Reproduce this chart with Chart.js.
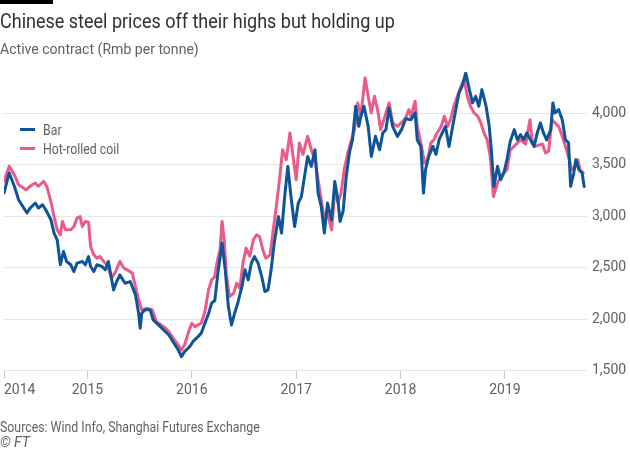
<!DOCTYPE html>
<html>
<head>
<meta charset="utf-8">
<script src="https://cdn.jsdelivr.net/npm/chart.js@4.4.1/dist/chart.umd.min.js"></script>
<style>
  html, body { margin: 0; padding: 0; background: #ffffff; }
  #wrap { position: relative; width: 630px; height: 450px; overflow: hidden;
          font-family: "Roboto", "Liberation Sans", sans-serif; }
  #topbar { position: absolute; left: 0; top: 0; width: 53px; height: 4px; background: #000; }
  #title { position: absolute; left: 0; top: 9px; font-size: 20px; line-height: 24px; color: #33302e; white-space: nowrap;
           transform: scaleX(0.9); transform-origin: 0 0; }
  #subtitle { position: absolute; left: 0; top: 41px; font-size: 14.5px; line-height: 17px; color: #66605c; white-space: nowrap;
              transform: scaleX(0.97); transform-origin: 0 0; }
  #legend { position: absolute; left: 20px; top: 121px; font-size: 14px; line-height: 19px; color: #66605c; }
  .item { position: relative; height: 19px; white-space: nowrap; }
  .sw { position: absolute; left: 0; top: 7px; width: 15px; height: 3px; }
  .lab { position: absolute; left: 23px; top: 0; transform: scaleX(0.88); transform-origin: 0 0; }
  #source { position: absolute; left: 0; top: 419px; font-size: 14px; line-height: 16px; color: #66605c; white-space: nowrap;
            transform: scaleX(0.88); transform-origin: 0 0; }
  #ft { position: absolute; left: 0; top: 434px; font-size: 14px; line-height: 16px; color: #66605c; font-style: italic; }
  #chartbox { position: absolute; left: 0; top: 0; width: 630px; height: 450px; }
</style>
</head>
<body>
<div id="wrap">
  <div id="chartbox"><canvas id="c" width="630" height="450"></canvas></div>
  <div id="topbar"></div>
  <div id="title">Chinese steel prices off their highs but holding up</div>
  <div id="subtitle">Active contract (Rmb per tonne)</div>
  <div id="legend"></div>
  <div id="source">Sources: Wind Info, Shanghai Futures Exchange</div>
  <div id="ft">© FT</div>
</div>
<script>
// ---- Data (dates as decimal years) ----
const seriesNames = ["Bar", "Hot-rolled coil"];
const seriesColors = ["#0f5499", "#ea5a8a"];

const barDates = [2014.20,2014.25,2014.30,2014.34,2014.37,2014.42,2014.45,2014.50,2014.53,2014.57,2014.60,2014.65,2014.68,2014.71,2014.73,2014.74,2014.77,2014.80,2014.84,2014.87,2014.90,2014.95,2014.98,2015.01,2015.03,2015.06,2015.09,2015.14,2015.17,2015.20,2015.25,2015.28,2015.31,2015.36,2015.41,2015.46,2015.49,2015.505,2015.52,2015.55,2015.60,2015.63,2015.68,2015.73,2015.78,2015.82,2015.87,2015.90,2015.93,2015.98,2016.01,2016.06,2016.09,2016.125,2016.16,2016.19,2016.22,2016.25,2016.29,2016.32,2016.35,2016.38,2016.41,2016.44,2016.48,2016.51,2016.54,2016.57,2016.60,2016.635,2016.67,2016.70,2016.73,2016.76,2016.79,2016.83,2016.86,2016.89,2016.92,2016.95,2016.985,2017.02,2017.05,2017.08,2017.11,2017.145,2017.18,2017.21,2017.24,2017.27,2017.30,2017.34,2017.37,2017.40,2017.42,2017.45,2017.48,2017.51,2017.54,2017.57,2017.60,2017.62,2017.65,2017.69,2017.72,2017.76,2017.80,2017.83,2017.86,2017.89,2017.925,2017.97,2018.01,2018.05,2018.10,2018.14,2018.16,2018.195,2018.22,2018.24,2018.27,2018.31,2018.34,2018.37,2018.40,2018.43,2018.465,2018.50,2018.53,2018.56,2018.59,2018.625,2018.66,2018.69,2018.72,2018.75,2018.78,2018.82,2018.85,2018.87,2018.895,2018.93,2018.96,2018.99,2019.02,2019.05,2019.09,2019.12,2019.15,2019.18,2019.21,2019.245,2019.28,2019.31,2019.34,2019.37,2019.40,2019.44,2019.46,2019.48,2019.515,2019.55,2019.58,2019.61,2019.63,2019.66,2019.68,2019.71,2019.74,2019.76];
const barValues = [3224,3419,3288,3159,3110,3030,3078,3127,3078,3110,3062,2964,2835,2770,2607,2527,2656,2559,2527,2461,2543,2559,2527,2607,2510,2461,2527,2510,2478,2559,2283,2364,2429,2348,2364,2235,2056,1911,2056,2089,2089,1991,1943,1894,1845,1780,1700,1634,1683,1732,1780,1829,1862,1960,2050,2154,2180,2446,2738,2478,2121,1943,2056,2154,2315,2478,2380,2543,2607,2543,2413,2267,2283,2478,2738,2996,2835,3191,3483,3191,2899,3127,3190,3386,3580,3483,3645,3224,3094,2835,3127,2964,3337,3159,2948,3050,3386,3613,3742,4067,3872,3970,4067,3872,3580,3775,3645,3808,3840,4051,3872,3775,3840,3945,3937,4003,3742,3677,3224,3451,3580,3677,3600,3742,3808,3872,3677,3872,4035,4197,4261,4391,4229,4100,4164,4067,4229,4067,3872,3645,3288,3483,3354,3419,3548,3720,3840,3742,3791,3742,3808,3742,3677,3808,3905,3808,3740,3840,4100,4003,4035,3937,3742,3711,3288,3419,3548,3451,3419,3288];

const hrcDates = [2014.20,2014.25,2014.30,2014.34,2014.41,2014.47,2014.50,2014.53,2014.58,2014.61,2014.645,2014.68,2014.71,2014.74,2014.76,2014.79,2014.84,2014.87,2014.90,2014.93,2014.95,2014.98,2015.01,2015.03,2015.06,2015.09,2015.12,2015.155,2015.19,2015.23,2015.27,2015.31,2015.35,2015.38,2015.43,2015.46,2015.49,2015.52,2015.57,2015.62,2015.66,2015.73,2015.78,2015.82,2015.87,2015.90,2015.93,2015.97,2016.00,2016.03,2016.06,2016.09,2016.125,2016.16,2016.19,2016.22,2016.24,2016.27,2016.29,2016.31,2016.33,2016.36,2016.40,2016.43,2016.46,2016.49,2016.52,2016.555,2016.59,2016.62,2016.65,2016.68,2016.71,2016.75,2016.78,2016.81,2016.84,2016.87,2016.905,2016.94,2016.97,2017.00,2017.03,2017.065,2017.11,2017.145,2017.18,2017.21,2017.24,2017.27,2017.30,2017.34,2017.37,2017.40,2017.43,2017.46,2017.495,2017.53,2017.56,2017.59,2017.62,2017.66,2017.69,2017.72,2017.75,2017.78,2017.81,2017.84,2017.89,2017.925,2017.97,2018.02,2018.05,2018.08,2018.10,2018.14,2018.16,2018.195,2018.23,2018.26,2018.29,2018.32,2018.35,2018.39,2018.42,2018.45,2018.48,2018.51,2018.545,2018.58,2018.61,2018.64,2018.67,2018.705,2018.74,2018.77,2018.80,2018.83,2018.86,2018.89,2018.93,2018.96,2018.99,2019.02,2019.05,2019.10,2019.15,2019.20,2019.24,2019.26,2019.29,2019.325,2019.36,2019.39,2019.42,2019.45,2019.48,2019.515,2019.55,2019.58,2019.61,2019.64,2019.675,2019.70,2019.72,2019.75];
const hrcValues = [3337,3483,3400,3305,3256,3305,3322,3290,3337,3288,3159,2996,2867,2818,2948,2867,2867,2900,2981,2996,2900,2948,2940,2705,2624,2592,2608,2559,2527,2397,2461,2559,2494,2478,2446,2315,2186,2089,2105,2089,1975,1926,1878,1813,1748,1700,1748,1878,1959,1926,1943,1959,2070,2283,2380,2413,2543,2672,2948,2770,2446,2218,2250,2348,2300,2543,2689,2610,2770,2818,2800,2672,2592,2624,2867,3094,3354,3645,3548,3808,3580,3354,3711,3600,3775,3645,3548,3354,3159,2964,3030,2867,3256,3130,3224,3451,3613,3742,3840,4100,3970,4343,4164,4003,4164,4035,3840,3937,4100,3905,3872,3920,3955,4035,3970,4116,3872,3711,3516,3548,3711,3742,3808,3872,3970,3872,3937,4067,4164,4261,4326,4164,4067,4003,3970,3905,3808,3742,3580,3191,3321,3386,3420,3451,3640,3690,3742,3700,3937,3742,3677,3690,3700,3613,3630,3937,3905,3872,3775,3677,3580,3451,3480,3548,3451,3420];

const xTickValues = [2014.20, 2015, 2016, 2017, 2018, 2019];
const xTickLabels = ["2014", "2015", "2016", "2017", "2018", "2019"];
const yTickValues = [1500, 2000, 2500, 3000, 3500, 4000];

// ---- Legend (HTML) ----
const legend = document.getElementById('legend');
seriesNames.forEach((n, i) => {
  const d = document.createElement('div');
  d.className = 'item';
  d.innerHTML = '<span class="sw" style="background:' + seriesColors[i] + '"></span><span class="lab">' + n + '</span>';
  legend.appendChild(d);
});

const X_MIN = 2014.20, X_MAX = 2019.787;
const toPts = (xs, ys) => xs.map((x, i) => ({ x: x, y: ys[i] }));

new Chart(document.getElementById('c'), {
  type: 'line',
  data: {
    datasets: [
      { label: seriesNames[0], data: toPts(barDates, barValues), borderColor: seriesColors[0],
        borderWidth: 3, pointRadius: 0, tension: 0, borderJoinStyle: 'round', borderCapStyle: 'round' },
      { label: seriesNames[1], data: toPts(hrcDates, hrcValues), borderColor: seriesColors[1],
        borderWidth: 3, pointRadius: 0, tension: 0, borderJoinStyle: 'round', borderCapStyle: 'round' }
    ]
  },
  options: {
    responsive: false,
    animation: false,
    events: [],
    layout: { padding: { left: 2, right: 0, top: 72, bottom: 49.5 } },
    plugins: { legend: { display: false }, tooltip: { enabled: false } },
    scales: {
      x: {
        type: 'linear', min: X_MIN, max: X_MAX,
        afterBuildTicks: (axis) => {
          axis.ticks = xTickValues.map(v => ({ value: v })).concat([{ value: X_MAX }]);
        },
        afterFit: (axis) => { axis.height = 30; },
        ticks: {
          autoSkip: false, maxRotation: 0, minRotation: 0, align: 'inner', padding: 4,
          color: '#66605c', font: { family: 'Roboto, sans-serif', size: 14 },
          callback: (v, i) => (i < xTickLabels.length ? xTickLabels[i] : '')
        },
        grid: {
          drawOnChartArea: false, drawTicks: true, tickLength: 8, lineWidth: 1,
          color: (ctx) => (ctx.index < xTickValues.length ? '#cfc6bd' : 'rgba(0,0,0,0)')
        },
        border: { display: false }
      },
      y: {
        type: 'linear', position: 'right', min: 1500, max: 4400,
        afterBuildTicks: (axis) => { axis.ticks = yTickValues.map(v => ({ value: v })); },
        afterFit: (axis) => { axis.width = 43; },
        ticks: {
          padding: 5, color: '#66605c',
          font: { family: 'Roboto, sans-serif', size: 14 },
          callback: (v) => v.toLocaleString('en-US')
        },
        grid: { color: '#ebe5df', lineWidth: 1, drawTicks: false },
        border: { display: false }
      }
    }
  }
});
</script>
</body>
</html>
